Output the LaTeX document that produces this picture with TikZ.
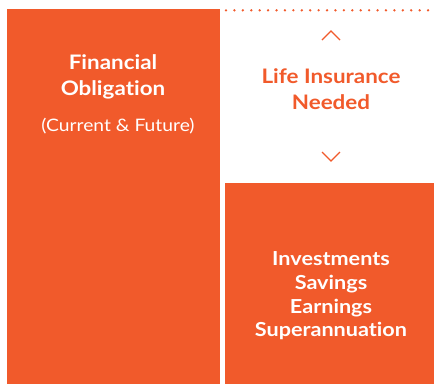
\documentclass[tikz,border=0pt]{standalone}
\usepackage{fontspec}
\setmainfont[FakeStretch=1.12,Ligatures={NoCommon,NoRare}]{Lato}
\definecolor{brand}{HTML}{F15A2B}
\begin{document}
\begin{tikzpicture}[x=1pt,y=-1pt,
  panel/.style={fill=brand,draw=none},
  headtext/.style={font=\bfseries\fontsize{20}{26.5}\selectfont,align=center},
  subtext/.style={font=\fontsize{17.2}{20}\selectfont,align=center},
  listtext/.style={font=\bfseries\fontsize{19.3}{23.7}\selectfont,align=center,text=white},
  chev/.style={draw=brand,line width=1.1pt}]
\useasboundingbox (0,0) rectangle (434,384);
% obligation column
\fill[panel] (7,9) rectangle (220,384);
% existing assets block
\fill[panel] (225,183) rectangle (434,384);
% dotted top rule over the gap
\foreach \i in {0,...,24}
  \fill[brand] (226+8.42*\i,10.3) circle (1.3);
% gap markers
\coordinate (upL) at (322,40);
\coordinate (upT) at (331,31);
\coordinate (upR) at (340,40);
\coordinate (dnL) at (322,152);
\coordinate (dnB) at (331,161);
\coordinate (dnR) at (340,152);
\draw[chev] (upL) -- (upT) -- (upR);
\draw[chev] (dnL) -- (dnB) -- (dnR);
% labels
\node[headtext,text=white] (obl) at (113,77) {Financial\\Obligation};
\node[subtext,text=white] (obls) at (118,126) {(Current \& Future)};
\node[headtext,text=brand] (ins) at (331,89) {Life Insurance\\Needed};
\node[listtext] (assets) at (331,296) {Investments\\Savings\\Earnings\\Superannuation};
\end{tikzpicture}
\end{document}
